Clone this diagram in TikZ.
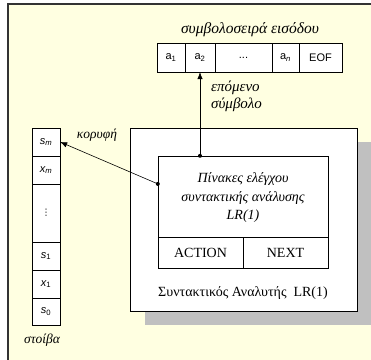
\documentclass[tikz,border=0pt]{standalone}
\usepackage{fontspec}
\setmainfont{Liberation Serif}
\setsansfont{Liberation Sans}
\newfontfamily\symfont{DejaVu Sans}
\usetikzlibrary{arrows.meta,calc}

\definecolor{paper}{RGB}{255,255,225}
\definecolor{shadowgray}{RGB}{192,192,192}

\tikzset{
  cell/.style={draw, fill=white, inner sep=0pt, minimum height=29,
    font=\sffamily\fontsize{11}{13}\selectfont},
  stackcell/.style={cell, minimum width=28, minimum height=28},
  greek/.style={font=\itshape\fontsize{13.5}{17}\selectfont, inner sep=0pt},
  ptr/.style={-{Latex[length=7pt,width=5.5pt]}, line width=0.6pt},
  dot/.style={circle, fill, inner sep=0pt, minimum size=4pt}
}

\begin{document}
\begin{tikzpicture}[x=1pt, y=-1pt]
  \useasboundingbox (0,0) rectangle (371,359);
  % frame
  \fill[paper] (8,4) rectangle (380,370);
  \draw[line width=1.5pt, black!80] (380,4) -- (8,4) -- (8,370);

  % input string
  \node[greek, font=\itshape\fontsize{15.5}{18}\selectfont] (inlabel) at (250,30) {συμβολοσειρά εισόδου};
  \node[cell, minimum width=28] (a1) at (171,57.5) {a\textsubscript{1}};
  \node[cell, minimum width=30] (a2) at (200,57.5) {a\textsubscript{2}};
  \node[cell, minimum width=57] (adots) at (243.5,57.5) {...};
  \node[cell, minimum width=27] (an) at (285.5,57.5) {a\textsubscript{\itshape n}};
  \node[cell, minimum width=43] (eof) at (320.5,57.5) {EOF};

  % stack
  \node[stackcell] (sm) at (46,142) {\itshape s\textsubscript{m}};
  \node[stackcell] (xm) at (46,170) {\itshape x\textsubscript{m}};
  \node[stackcell, minimum height=58] (sdots) at (46,213) {\symfont\fontsize{9}{9}\selectfont ⋮};
  \node[stackcell] (s1) at (46,256) {\itshape s\textsubscript{\upshape 1}};
  \node[stackcell] (x1) at (46,284) {\itshape x\textsubscript{\upshape 1}};
  \node[stackcell, minimum height=27] (s0) at (46,311.5) {\itshape s\textsubscript{\upshape 0}};
  \node[greek] (stacklabel) at (42,340) {στοίβα};

  % parser
  \fill[shadowgray] (145,142) rectangle (372,325);
  \node[draw, fill=white, minimum width=227, minimum height=183, inner sep=0pt]
    (parser) at (243.5,219.5) {};
  \node[draw, minimum width=170, minimum height=112, inner sep=0pt]
    (tables) at (243,212) {};
  \draw (tables.west |- 0,237) coordinate (divl) -- (tables.east |- 0,237) coordinate (divr);
  \draw (243,237) coordinate (divt) -- (tables.south);
  \node[greek, align=center, font=\itshape\fontsize{14}{18.5}\selectfont]
    (tabletext) at (243,198) {Πίνακες ελέγχου\\συντακτικής ανάλυσης\\LR(1)};
  \node[font=\fontsize{14}{17}\selectfont] (action) at (200.5,253) {ACTION};
  \node[font=\fontsize{14}{17}\selectfont] (next) at (285.5,253) {NEXT};
  \node[font=\fontsize{14}{17}\selectfont] (parsername) at (243,293)
    {Συντακτικός Αναλυτής\ \ LR(1)};

  % pointers
  \coordinate (readpt) at (tables.north -| a2.south);
  \coordinate (toppt) at ($(tables.north west)!0.25!(tables.south west)$);
  \draw[ptr] (readpt) -- (a2.south);
  \node[dot] at (readpt) {};
  \draw[ptr] (toppt) -- (sm.east);
  \node[dot] at (toppt) {};
  \node[greek, anchor=north west, align=left, font=\itshape\fontsize{15}{17}\selectfont]
    (nextlabel) at (211,81) {επόμενο\\σύμβολο};
  \node[greek] (toplabel) at (97,135) {κορυφή};
\end{tikzpicture}
\end{document}
